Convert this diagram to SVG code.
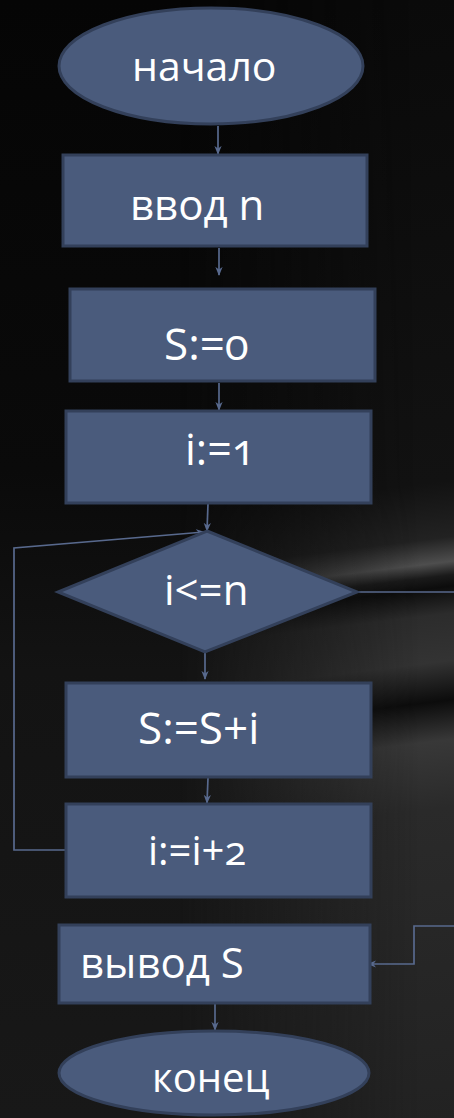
<svg xmlns="http://www.w3.org/2000/svg" width="454" height="1118" viewBox="0 0 454 1118">
  <defs>
    <style>
      .shape { fill: #4a5b7c; stroke: #33405a; stroke-width: 3; }
      .label { fill: #ffffff; font-family: "Open Sans", "Noto Sans", "DejaVu Sans", sans-serif; font-feature-settings: "onum"; font-variant-numeric: oldstyle-nums; }
      .wire { fill: none; stroke: #58698d; stroke-width: 1.7; }
    </style>
    <marker id="arrow" viewBox="0 0 10 10" refX="9" refY="5" markerWidth="9" markerHeight="9" orient="auto" markerUnits="userSpaceOnUse">
      <path d="M0,1 L10,5 L0,9 L3,5 Z" fill="#58698d"/>
    </marker>
    <linearGradient id="bg" x1="0" y1="0" x2="0" y2="1">
      <stop offset="0" stop-color="#050505"/>
      <stop offset="0.42" stop-color="#0a0a0a"/>
      <stop offset="0.6" stop-color="#131313"/>
      <stop offset="1" stop-color="#181818"/>
    </linearGradient>
    <!-- grey sweeps, tilted so they rise to the right -->
    <linearGradient id="sweep" gradientUnits="userSpaceOnUse" x1="0" y1="0" x2="0" y2="1118" gradientTransform="rotate(-7 454 600)">
      <stop offset="0" stop-color="#0a0a0a"/>
      <stop offset="0.43" stop-color="#121212"/>
      <stop offset="0.48" stop-color="#222222"/>
      <stop offset="0.502" stop-color="#4e4e4e"/>
      <stop offset="0.514" stop-color="#1a1a1a"/>
      <stop offset="0.524" stop-color="#0c0c0c"/>
      <stop offset="0.548" stop-color="#2c2c2c"/>
      <stop offset="0.59" stop-color="#333333"/>
      <stop offset="0.625" stop-color="#0c0c0c"/>
      <stop offset="0.66" stop-color="#383838"/>
      <stop offset="0.72" stop-color="#2a2a2a"/>
      <stop offset="1" stop-color="#222222"/>
    </linearGradient>
    <linearGradient id="hfade" gradientUnits="userSpaceOnUse" x1="180" y1="0" x2="420" y2="0">
      <stop offset="0" stop-color="#000"/>
      <stop offset="1" stop-color="#fff"/>
    </linearGradient>
    <mask id="fadeRight">
      <rect width="454" height="1118" fill="url(#hfade)"/>
    </mask>
  </defs>

  <!-- backdrop -->
  <rect width="454" height="1118" fill="url(#bg)"/>
  <rect width="454" height="1118" fill="url(#sweep)" mask="url(#fadeRight)"/>

  <!-- connectors -->
  <g id="connectors">
    <line class="wire" x1="218" y1="126" x2="218" y2="154" marker-end="url(#arrow)"/>
    <line class="wire" x1="219" y1="248" x2="219" y2="275" marker-end="url(#arrow)"/>
    <line class="wire" x1="219" y1="383" x2="219" y2="410" marker-end="url(#arrow)"/>
    <line class="wire" x1="208" y1="504" x2="207" y2="531" marker-end="url(#arrow)"/>
    <polyline class="wire" points="66,850 14,850 14,548 204,532" marker-end="url(#arrow)"/>
    <line class="wire" x1="357" y1="592" x2="454" y2="592"/>
    <line class="wire" x1="205" y1="653" x2="205" y2="679" marker-end="url(#arrow)"/>
    <line class="wire" x1="208" y1="778" x2="207" y2="803" marker-end="url(#arrow)"/>
    <polyline class="wire" points="454,926 414,926 414,964 368,964" marker-end="url(#arrow)"/>
    <line class="wire" x1="215" y1="1004" x2="215" y2="1030" marker-end="url(#arrow)"/>
  </g>

  <g id="start">
    <ellipse class="shape" cx="211" cy="66" rx="152" ry="58"/>
    <text class="label" x="132" y="81" font-size="41">начало</text>
  </g>

  <g id="input-n">
    <rect class="shape" x="63" y="155" width="304" height="91"/>
    <text class="label" x="130" y="220" font-size="42">ввод n</text>
  </g>

  <g id="init-s">
    <rect class="shape" x="70" y="289" width="305" height="92"/>
    <text class="label" x="164" y="360" font-size="44">S:=0</text>
  </g>

  <g id="init-i">
    <rect class="shape" x="66" y="411" width="305" height="92"/>
    <text class="label" x="185" y="465" font-size="43">i:=1</text>
  </g>

  <g id="condition">
    <polygon class="shape" points="207,531 357,592 205,652 58,592"/>
    <text class="label" x="164" y="605" font-size="42">i&lt;=n</text>
  </g>

  <g id="accumulate">
    <rect class="shape" x="66" y="683" width="305" height="94"/>
    <text class="label" x="138" y="744" font-size="44">S:=S+i</text>
  </g>

  <g id="step-i">
    <rect class="shape" x="66" y="804" width="305" height="93"/>
    <text class="label" x="148" y="865" font-size="40">i:=i+2</text>
  </g>

  <g id="output-s">
    <rect class="shape" x="59" y="925" width="311" height="78"/>
    <text class="label" x="80" y="978" font-size="42">вывод S</text>
  </g>

  <g id="end">
    <ellipse class="shape" cx="214" cy="1073" rx="155" ry="42"/>
    <text class="label" x="152" y="1092" font-size="40">конец</text>
  </g>
</svg>
